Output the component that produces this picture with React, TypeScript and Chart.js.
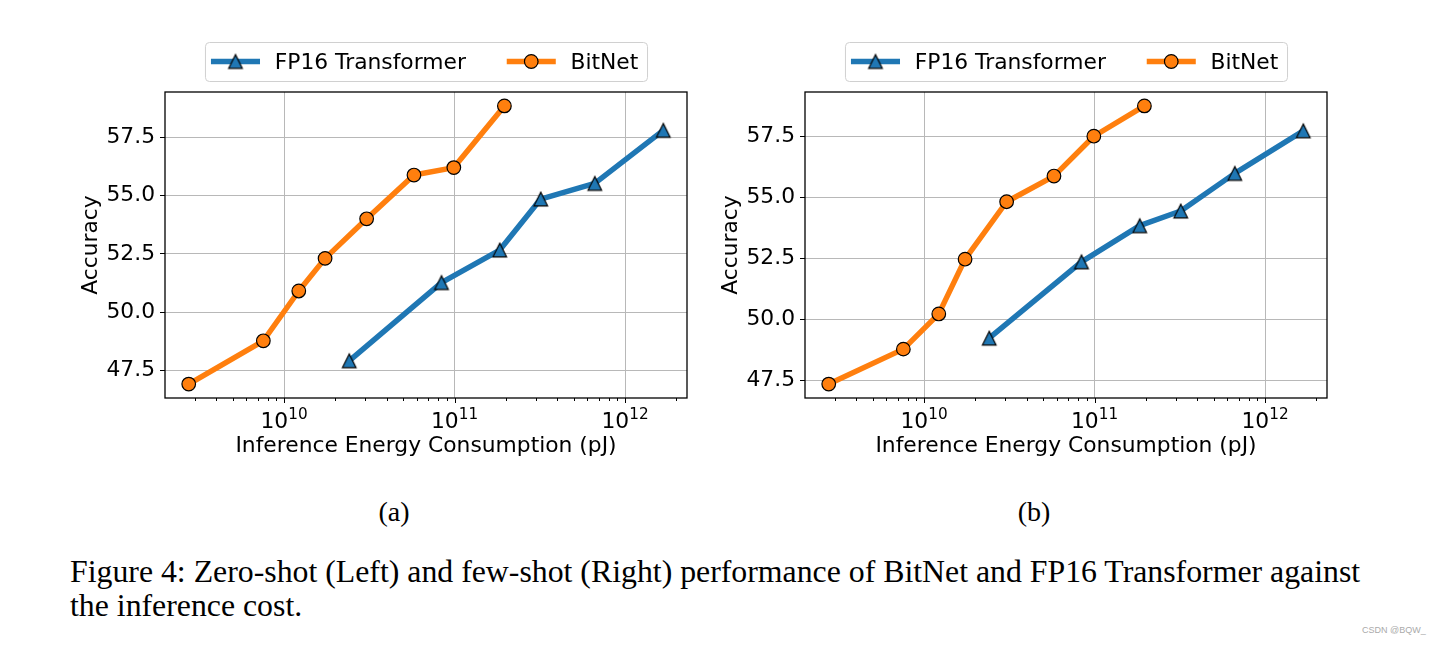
import React, { useEffect, useRef } from 'react';
import { Chart, registerables } from 'chart.js';

Chart.register(...registerables);

// ---------- data ----------
const SERIES_NAMES = ['FP16 Transformer', 'BitNet'];
// inference energy (pJ) of each model size
const ENERGY_FP16 = [2.41e10, 8.38e10, 1.84e11, 3.2e11, 6.64e11, 1.675e12];
const ENERGY_BITNET = [2.76e9, 7.56e9, 1.22e10, 1.74e10, 3.05e10, 5.78e10, 9.9e10, 1.96e11];
// (a) zero-shot accuracy
const ZERO_SHOT_FP16 = [47.91, 51.27, 52.67, 54.86, 55.53, 57.81];
const ZERO_SHOT_BITNET = [46.91, 48.77, 50.91, 52.31, 54.01, 55.89, 56.21, 58.86];
// (b) few-shot accuracy
const FEW_SHOT_FP16 = [49.24, 52.36, 53.84, 54.44, 55.98, 57.72];
const FEW_SHOT_BITNET = [47.36, 48.79, 50.23, 52.47, 54.82, 55.87, 57.5, 58.74];

const X_MAJOR_EXPONENTS = [10, 11, 12];
const X_MINOR_EXPONENTS = [9, 10, 11, 12];
const X_MINOR_MULTIPLIERS = [2, 3, 4, 5, 6, 7, 8, 9];
const Y_TICKS = [47.5, 50, 52.5, 55, 57.5];

const X_TITLE = 'Inference Energy Consumption (pJ)';
const Y_TITLE = 'Accuracy';
const PANEL_LABELS = ['(a)', '(b)'];
const CAPTION_LINES = [
  'Figure 4: Zero-shot (Left) and few-shot (Right) performance of BitNet and FP16 Transformer against',
  'the inference cost.',
];
const WATERMARK = 'CSDN @BQW_';

// ---------- styles ----------
const BLUE = '#1f77b4';
const ORANGE = '#ff7f0e';
const GRID = '#b8b8b8';
const FONT_FAMILY = "'DejaVu Sans', sans-serif";
const FONT_SIZE = 21.8;
const LINE_W = 5.45;
const MARKER = 13.6;

function makeTriangle(color: string): HTMLCanvasElement {
  const size = 22;
  const c = document.createElement('canvas');
  c.width = size;
  c.height = size;
  const g = c.getContext('2d')!;
  const h = MARKER / 2;
  const cx = size / 2;
  const cy = size / 2;
  g.beginPath();
  g.moveTo(cx, cy - h);
  g.lineTo(cx - h, cy + h);
  g.lineTo(cx + h, cy + h);
  g.closePath();
  g.fillStyle = color;
  g.fill();
  g.lineWidth = 1.2;
  g.strokeStyle = '#000';
  g.stroke();
  return c;
}

const decorPlugin = {
  id: 'decor',
  afterDraw(chart: any) {
    const { ctx, chartArea: a, scales } = chart;
    const xs = scales.x;
    ctx.save();

    // x tick marks
    ctx.strokeStyle = '#000';
    ctx.lineWidth = 1;
    for (const t of xs.ticks) {
      const px = Math.round(xs.getPixelForValue(t.value)) + 0.5;
      const len = t.major ? 5 : 3;
      ctx.beginPath();
      ctx.moveTo(px, a.bottom);
      ctx.lineTo(px, a.bottom + len);
      ctx.stroke();
    }

    // x tick labels 10^n
    ctx.fillStyle = '#000';
    ctx.textBaseline = 'alphabetic';
    ctx.textAlign = 'left';
    const baseFont = `${FONT_SIZE}px ${FONT_FAMILY}`;
    const supFont = `${FONT_SIZE * 0.7}px ${FONT_FAMILY}`;
    for (const e of X_MAJOR_EXPONENTS) {
      const px = xs.getPixelForValue(Math.pow(10, e));
      ctx.font = baseFont;
      const w1 = ctx.measureText('10').width;
      ctx.font = supFont;
      const w2 = ctx.measureText(String(e)).width;
      const x0 = px - (w1 + w2) / 2;
      ctx.font = baseFont;
      ctx.fillText('10', x0, a.bottom + 30);
      ctx.font = supFont;
      ctx.fillText(String(e), x0 + w1, a.bottom + 21);
    }

    // frame
    ctx.strokeStyle = '#000';
    ctx.lineWidth = 1.3;
    ctx.strokeRect(Math.round(a.left), Math.round(a.top), Math.round(a.right) - Math.round(a.left), Math.round(a.bottom) - Math.round(a.top));

    // legend
    const ds = chart.data.datasets;
    const fs = FONT_SIZE;
    const pad = 0.4 * fs;
    const hl = 2 * fs;
    const tp = 0.8 * fs;
    const cs = 2 * fs;
    ctx.font = baseFont;
    const widths = ds.map((d: any) => ctx.measureText(d.label).width);
    let total = 2 * pad;
    widths.forEach((w: number, i: number) => {
      total += hl + tp + w + (i > 0 ? cs : 0);
    });
    const boxTop = 42;
    const boxH = 39;
    const boxLeft = (a.left + a.right) / 2 - total / 2;
    const cy = boxTop + boxH / 2;
    ctx.beginPath();
    ctx.roundRect(boxLeft + 0.5, boxTop + 0.5, total, boxH, 4);
    ctx.fillStyle = 'rgba(255,255,255,0.8)';
    ctx.fill();
    ctx.strokeStyle = '#d0d0d0';
    ctx.lineWidth = 1;
    ctx.stroke();
    let x = boxLeft + pad;
    ds.forEach((d: any, i: number) => {
      if (i > 0) x += cs;
      ctx.strokeStyle = d.borderColor;
      ctx.lineWidth = LINE_W;
      ctx.lineCap = 'square';
      ctx.beginPath();
      ctx.moveTo(x, cy);
      ctx.lineTo(x + hl, cy);
      ctx.stroke();
      const mx = x + hl / 2;
      if (typeof d.pointStyle === 'object') {
        const img = d.pointStyle as HTMLCanvasElement;
        ctx.drawImage(img, mx - img.width / 2, cy - img.height / 2);
      } else {
        ctx.beginPath();
        ctx.arc(mx, cy, MARKER / 2, 0, Math.PI * 2);
        ctx.fillStyle = d.pointBackgroundColor;
        ctx.fill();
        ctx.lineWidth = 1.2;
        ctx.strokeStyle = '#000';
        ctx.stroke();
      }
      x += hl + tp;
      ctx.fillStyle = '#000';
      ctx.font = baseFont;
      ctx.textBaseline = 'alphabetic';
      ctx.fillText(d.label, x, boxTop + 26.6);
      x += widths[i];
    });

    ctx.restore();
  },
};

function buildConfig(fp16: number[], bitnet: number[], triangle: HTMLCanvasElement): any {
  const lx = [...ENERGY_FP16, ...ENERGY_BITNET].map((v) => Math.log10(v));
  const lxMin = Math.min(...lx);
  const lxMax = Math.max(...lx);
  const mx = (lxMax - lxMin) * 0.05;
  const ys = [...fp16, ...bitnet];
  const yMin = Math.min(...ys);
  const yMax = Math.max(...ys);
  const my = (yMax - yMin) * 0.05;
  const font = { family: FONT_FAMILY, size: FONT_SIZE };

  return {
    type: 'line',
    data: {
      datasets: [
        {
          label: SERIES_NAMES[0],
          data: ENERGY_FP16.map((x, i) => ({ x, y: fp16[i] })),
          borderColor: BLUE,
          backgroundColor: BLUE,
          borderWidth: LINE_W,
          borderJoinStyle: 'round',
          pointStyle: triangle,
          pointRadius: MARKER / 2,
          pointBackgroundColor: BLUE,
          pointBorderColor: '#000',
          fill: false,
        },
        {
          label: SERIES_NAMES[1],
          data: ENERGY_BITNET.map((x, i) => ({ x, y: bitnet[i] })),
          borderColor: ORANGE,
          backgroundColor: ORANGE,
          borderWidth: LINE_W,
          borderJoinStyle: 'round',
          pointStyle: 'circle',
          pointRadius: MARKER / 2,
          pointBackgroundColor: ORANGE,
          pointBorderColor: '#000',
          pointBorderWidth: 1.2,
          fill: false,
        },
      ],
    },
    options: {
      responsive: false,
      animation: false,
      devicePixelRatio: 1,
      layout: { padding: { left: 65, right: 13, top: 92, bottom: 18 } },
      plugins: { legend: { display: false }, tooltip: { enabled: false } },
      scales: {
        x: {
          type: 'logarithmic',
          min: Math.pow(10, lxMin - mx),
          max: Math.pow(10, lxMax + mx),
          afterBuildTicks: (s: any) => {
            const ticks: any[] = [];
            for (const e of X_MINOR_EXPONENTS) {
              for (const m of X_MINOR_MULTIPLIERS) {
                const v = m * Math.pow(10, e);
                if (v >= s.min && v <= s.max) ticks.push({ value: v, major: false });
              }
            }
            for (const e of X_MAJOR_EXPONENTS) ticks.push({ value: Math.pow(10, e), major: true });
            ticks.sort((p, q) => p.value - q.value);
            s.ticks = ticks;
          },
          afterFit: (s: any) => {
            s.height = 64;
          },
          ticks: { display: false, autoSkip: false },
          grid: {
            color: (c: any) => (c.tick && c.tick.major ? GRID : 'rgba(0,0,0,0)'),
            drawTicks: false,
            lineWidth: 1,
          },
          border: { display: false },
          title: {
            display: true,
            text: X_TITLE,
            color: '#000',
            font,
            padding: { top: 0, bottom: 2.5 },
          },
        },
        y: {
          type: 'linear',
          min: yMin - my,
          max: yMax + my,
          afterBuildTicks: (s: any) => {
            s.ticks = Y_TICKS.map((v) => ({ value: v }));
          },
          afterFit: (s: any) => {
            s.width = 100;
          },
          ticks: {
            color: '#000',
            font,
            padding: 5,
            autoSkip: false,
            callback: (v: any) => Number(v).toFixed(1),
          },
          grid: { color: GRID, tickColor: '#000', tickLength: 5, lineWidth: 1 },
          border: { display: false },
          title: {
            display: true,
            text: Y_TITLE,
            color: '#000',
            font,
            padding: { top: 13.6, bottom: 0 },
          },
        },
      },
    },
    plugins: [decorPlugin],
  };
}

export default function App() {
  const leftRef = useRef<HTMLCanvasElement>(null);
  const rightRef = useRef<HTMLCanvasElement>(null);

  useEffect(() => {
    document.body.style.margin = '0';
    const tri = makeTriangle(BLUE);
    const c1 = new Chart(leftRef.current!, buildConfig(ZERO_SHOT_FP16, ZERO_SHOT_BITNET, tri));
    const c2 = new Chart(rightRef.current!, buildConfig(FEW_SHOT_FP16, FEW_SHOT_BITNET, tri));
    return () => {
      c1.destroy();
      c2.destroy();
    };
  }, []);

  const serif = "'Liberation Serif', 'Times New Roman', serif";
  return (
    <div style={{ position: 'absolute', left: 0, top: 0, width: 1440, height: 645, background: '#fff', overflow: 'hidden' }}>
      <canvas ref={leftRef} width={700} height={480} style={{ position: 'absolute', left: 0, top: 0 }} />
      <canvas ref={rightRef} width={700} height={480} style={{ position: 'absolute', left: 640, top: 0 }} />
      {PANEL_LABELS.map((t, i) => (
        <div
          key={t}
          style={{
            position: 'absolute',
            left: 294 + i * 640,
            width: 200,
            top: 495.3,
            textAlign: 'center',
            fontFamily: serif,
            fontSize: 28,
            lineHeight: '34px',
            color: '#000',
          }}
        >
          {t}
        </div>
      ))}
      <div
        style={{
          position: 'absolute',
          left: 70,
          top: 554.5,
          fontFamily: serif,
          fontSize: 31.8,
          lineHeight: '34.4px',
          color: '#000',
          whiteSpace: 'nowrap',
        }}
      >
        {CAPTION_LINES.map((l) => (
          <div key={l}>{l}</div>
        ))}
      </div>
      <div
        style={{
          position: 'absolute',
          left: 1362,
          top: 625.8,
          fontFamily: "'Liberation Sans', Arial, sans-serif",
          fontSize: 9,
          lineHeight: '9px',
          color: '#aaa',
          whiteSpace: 'nowrap',
        }}
      >
        {WATERMARK}
      </div>
    </div>
  );
}
